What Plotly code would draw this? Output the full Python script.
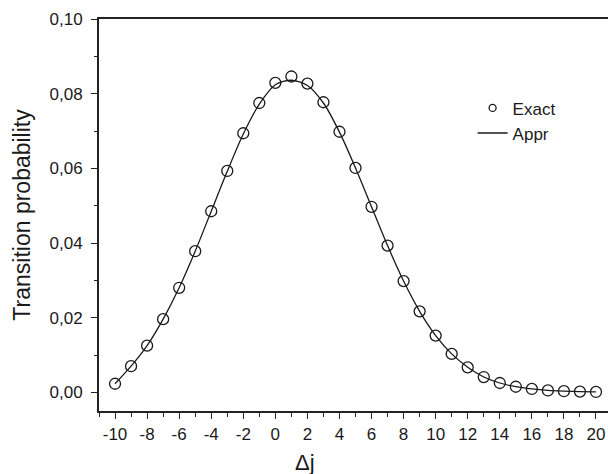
import plotly.graph_objects as go

# Data
dj = list(range(-10, 21))
exact = [0.0023, 0.0070, 0.0125, 0.0196, 0.0280, 0.0378, 0.0485, 0.0593, 0.0694, 0.0775,
         0.0829, 0.0846, 0.0827, 0.0777, 0.0698, 0.0601, 0.0497, 0.0393, 0.0298, 0.0217,
         0.0152, 0.0103, 0.0067, 0.0041, 0.0025, 0.0015, 0.0009, 0.0005, 0.0003, 0.0002, 0.0001]
appr = [0.0023, 0.0070, 0.0125, 0.0196, 0.0280, 0.0378, 0.0485, 0.0592, 0.0692, 0.0772,
        0.0824, 0.0836, 0.0822, 0.0775, 0.0697, 0.0601, 0.0497, 0.0393, 0.0298, 0.0217,
        0.0152, 0.0103, 0.0067, 0.0041, 0.0025, 0.0015, 0.0009, 0.0005, 0.0003, 0.0002, 0.0001]

x_tickvals = list(range(-10, 21, 2))
x_ticktext = ["-10", "-8", "-6", "-4", "-2", "0", "2", "4", "6", "8",
              "10", "12", "14", "16", "18", "20"]
y_tickvals = [0.00, 0.02, 0.04, 0.06, 0.08, 0.10]
y_ticktext = ["0,00", "0,02", "0,04", "0,06", "0,08", "0,10"]

FONT = "Liberation Sans, Arial, sans-serif"
INK = "#1a1a1a"

fig = go.Figure()

# Approximation curve
fig.add_trace(go.Scatter(
    x=dj, y=appr, mode="lines", line=dict(color=INK, width=1.3, shape="spline", smoothing=0.8),
    showlegend=False, hoverinfo="skip"))
# Exact points
fig.add_trace(go.Scatter(
    x=dj, y=exact, mode="markers",
    marker=dict(symbol="circle-open", size=11, color=INK, line=dict(width=1.3, color=INK)),
    showlegend=False))

# Legend entries
fig.add_trace(go.Scatter(
    x=[None], y=[None], mode="markers", name="Exact",
    marker=dict(symbol="circle-open", size=7, color=INK, line=dict(width=1.3, color=INK))))
fig.add_trace(go.Scatter(
    x=[None], y=[None], mode="lines", name="Appr", line=dict(color=INK, width=1.3)))

fig.update_layout(
    width=608, height=474,
    margin=dict(l=99, r=0, t=19, b=63),
    paper_bgcolor="white", plot_bgcolor="white",
    font=dict(family=FONT, size=17, color=INK),
    showlegend=True,
    legend=dict(x=0.734, y=0.818, xanchor="left", yanchor="top",
                bgcolor="rgba(0,0,0,0)", borderwidth=0,
                font=dict(size=17), tracegroupgap=0),
    annotations=[
        dict(text="Δj", xref="paper", yref="paper", x=0.405, y=-0.095,
             xanchor="center", yanchor="top", showarrow=False,
             font=dict(size=22, family=FONT, color=INK)),
        dict(text="Transition probability", xref="paper", yref="paper", x=-0.152, y=0.5,
             xanchor="center", yanchor="middle", textangle=-90, showarrow=False,
             font=dict(size=23, family=FONT, color=INK)),
    ],
)

fig.update_xaxes(
    range=[-11, 20.75], tickvals=x_tickvals, ticktext=x_ticktext,
    showgrid=False, zeroline=False,
    showline=True, linecolor="#222", linewidth=2, mirror=True,
    ticks="outside", ticklen=6, tickwidth=1.3, tickcolor="#222",
    minor=dict(dtick=1, ticks="outside", ticklen=3.5, tickwidth=1.3, tickcolor="#222"),
    tickfont=dict(size=17), ticklabelstandoff=1,
)
fig.update_yaxes(
    range=[-0.005, 0.10], tickvals=y_tickvals, ticktext=y_ticktext,
    showgrid=False, zeroline=False,
    showline=True, linecolor="#222", linewidth=2,
    ticks="outside", ticklen=6, tickwidth=1.3, tickcolor="#222",
    minor=dict(dtick=0.01, tick0=0, ticks="outside", ticklen=3.5, tickwidth=1.3, tickcolor="#222"),
    tickfont=dict(size=17), ticklabelstandoff=5,
)

fig.write_html(
    "out.html",
    config={"displayModeBar": False},
    post_script="document.body.style.margin='0';document.body.style.overflow='hidden';",
)
